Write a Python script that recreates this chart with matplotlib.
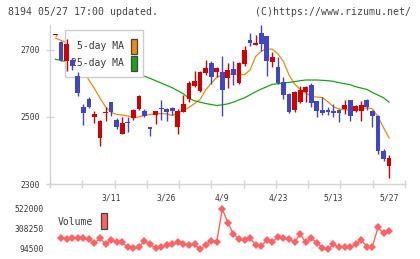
import numpy as np
import matplotlib
matplotlib.use("Agg")
import matplotlib.pyplot as plt
from matplotlib.patches import Rectangle

# candle data (index 0 = oldest shown day)
opens = [2743, 2723, 2666, 2671, 2623, 2531, 2552, 2499, 2436, 2511,
         2543, 2492, 2449, 2484, 2496, 2524, 2519, 2471, 2506, 2526,
         2524, 2527, 2469, 2516, 2554, 2593, 2578, 2631, 2660, 2635,
         2635, 2615, 2643, 2600, 2658, 2728, 2713, 2751, 2740, 2663,
         2650, 2605, 2567, 2522, 2544, 2575, 2596, 2546, 2521, 2521,
         2518, 2521, 2524, 2551, 2519, 2517, 2549, 2519, 2504, 2399, 2355]
highs = [2744, 2726, 2731, 2676, 2633, 2539, 2559, 2519, 2491, 2531,
         2545, 2497, 2499, 2499, 2524, 2564, 2524, 2471, 2519, 2549,
         2526, 2529, 2524, 2564, 2608, 2638, 2638, 2670, 2668, 2648,
         2683, 2660, 2668, 2663, 2710, 2751, 2743, 2773, 2740, 2693,
         2678, 2618, 2570, 2576, 2593, 2593, 2600, 2546, 2559, 2529,
         2539, 2524, 2551, 2551, 2537, 2546, 2554, 2521, 2506, 2404, 2385]
lows = [2742, 2666, 2636, 2640, 2561, 2477, 2527, 2481, 2414, 2487,
        2504, 2464, 2449, 2454, 2491, 2521, 2499, 2444, 2479, 2492,
        2488, 2506, 2449, 2514, 2544, 2588, 2575, 2626, 2598, 2620,
        2504, 2585, 2596, 2598, 2653, 2710, 2713, 2696, 2623, 2650,
        2598, 2552, 2511, 2514, 2541, 2544, 2529, 2499, 2507, 2507,
        2499, 2484, 2509, 2489, 2514, 2489, 2521, 2471, 2390, 2370, 2317]
closes = [2743, 2671, 2718, 2651, 2570, 2511, 2529, 2509, 2487, 2515,
          2514, 2471, 2482, 2481, 2521, 2561, 2504, 2463, 2517, 2523,
          2514, 2517, 2519, 2539, 2600, 2608, 2633, 2645, 2620, 2645,
          2581, 2640, 2626, 2660, 2698, 2720, 2720, 2716, 2666, 2680,
          2602, 2564, 2514, 2575, 2579, 2588, 2541, 2517, 2513, 2514,
          2512, 2511, 2537, 2502, 2534, 2537, 2531, 2504, 2397, 2375, 2378]

ma5 = [2735, 2728, 2722, 2700, 2670, 2640, 2610, 2585, 2556, 2530,
       2514, 2507, 2506, 2503, 2497, 2500, 2505, 2507, 2509, 2510,
       2509, 2504, 2512, 2519, 2528, 2540, 2552, 2580, 2600, 2618,
       2625, 2627, 2628, 2627, 2626, 2640, 2680, 2696, 2703, 2702,
       2688, 2665, 2625, 2598, 2582, 2572, 2561, 2559, 2558, 2545,
       2530, 2524, 2521, 2521, 2521, 2524, 2527, 2524, 2501, 2468, 2437]
ma25 = [2672, 2668, 2665, 2662, 2658, 2655, 2651, 2648, 2645, 2641,
        2638, 2635, 2632, 2629, 2626, 2624, 2621, 2615, 2608, 2601,
        2594, 2587, 2578, 2569, 2555, 2548, 2544, 2540, 2537, 2534,
        2536, 2539, 2544, 2551, 2557, 2566, 2575, 2583, 2590, 2597,
        2599, 2601, 2603, 2605, 2608, 2610, 2610, 2610, 2609, 2608,
        2606, 2602, 2599, 2596, 2590, 2586, 2582, 2573, 2565, 2557, 2544]

# volume from day 1 onward
volume = [215600, 201400, 208500, 208500, 208500, 197800, 155000, 208500, 144400, 190700,
          165750, 165750, 112300, 101600, 112300, 180000, 144400, 101600, 119400, 137250,
          144400, 165750, 144400, 137250, 144400, 91000, 137250, 183600, 172900, 522000,
          375900, 254800, 201400, 190700, 208500, 137250, 126600, 190700, 172900, 219200,
          208500, 201400, 165750, 254800, 165750, 208500, 162200, 108750, 94500, 144400,
          112300, 119400, 112300, 144400, 190700, 119400, 119400, 326100, 262000, 286900]

date_idx = [10, 20, 30, 40, 50, 60]
date_labels = ["3/11", "3/26", "4/9", "4/23", "5/13", "5/27"]
price_ticks = [2300, 2500, 2700]
vol_ticks = [94500, 308250, 522000]

RED = "#d40000"
BLUE = "#4046c4"
ORANGE = "#f28a0c"
GREEN = "#16a616"
VOLC = "#ff6262"
AXC = "#d4d4d4"
TXT = "#3a3a3a"
MONO = "DejaVu Sans Mono"

W, H = 420, 259
fig = plt.figure(figsize=(W / 100, H / 100), dpi=100)

def fx(px):
    return px / W

def fy(py):
    return 1 - py / H

ax = fig.add_axes([fx(50), fy(184), 355 / W, 159 / H])
axv = fig.add_axes([fx(50), fy(253), 355 / W, 48 / H])

x = np.arange(len(opens))
o = np.array(opens)
c = np.array(closes)
up = c >= o
cols = np.where(up, RED, BLUE)
bottom = np.minimum(o, c)
height = np.maximum(np.abs(c - o), 3)

ax.plot(x, ma5, color=ORANGE, lw=0.9, zorder=2)
ax.plot(x, ma25, color=GREEN, lw=0.9, zorder=2)
ax.vlines(x, lows, highs, colors=cols, lw=1, zorder=4)
ax.bar(x, height, bottom=bottom, width=0.85, color=cols, zorder=4)

xmin, xmax = -0.99, 62.86
ax.set_xlim(xmin, xmax)
ax.set_ylim(2300, 2774)
for s in ["top", "right"]:
    ax.spines[s].set_visible(False)
for s in ["left", "bottom"]:
    ax.spines[s].set_color(AXC)
    ax.spines[s].set_linewidth(1)

ax.set_yticks(price_ticks)
ax.set_yticklabels([str(t) for t in price_ticks])
ax.tick_params(axis="y", direction="inout", length=6, width=1, color=AXC,
               labelsize=5.8, labelcolor=TXT, pad=4)
ax.set_xticks(np.linspace(xmin, xmax, 12))
ax.set_xticklabels([])
ax.tick_params(axis="x", which="major", direction="inout", length=6, width=1, color=AXC)
ax.set_xticks(date_idx, minor=True)
ax.set_xticklabels(date_labels, minor=True)
ax.tick_params(axis="x", which="minor", length=0, pad=6.5, labelsize=5.8, labelcolor=TXT)
for lab in ax.get_xticklabels(minor=True) + ax.get_yticklabels():
    lab.set_family(MONO)

# MA legend box (sits under the candles, over the MA lines)
def ax_pt(px, py):
    return ((px - 50) / 355, (184 - py) / 159)

bx0, by0 = ax_pt(65, 77)
bx1, by1 = ax_pt(143, 30)
ax.add_patch(Rectangle((bx0, by0), bx1 - bx0, by1 - by0, transform=ax.transAxes,
                       facecolor="white", edgecolor="#cccccc", lw=1, zorder=3))
for name, col, py in [("5-day MA", ORANGE, 46), ("25-day MA", GREEN, 63)]:
    tx, ty = ax_pt(124, py)
    ax.text(tx, ty, name, transform=ax.transAxes, ha="right", va="center",
            fontsize=7, family=MONO, color=TXT, zorder=3)
    rx, ry = ax_pt(131, py + 7.5)
    ax.add_patch(Rectangle((rx, ry), 6 / 355, 15 / 159, transform=ax.transAxes,
                           facecolor=col, edgecolor="#444444", lw=0.9, zorder=3))

# volume panel
axv.plot(np.arange(1, len(volume) + 1), volume, color=VOLC, lw=1,
         marker="D", markersize=3.6, markeredgewidth=0)
axv.set_xlim(xmin, xmax)
axv.set_ylim(51750, 564750)
for s in axv.spines.values():
    s.set_visible(False)
axv.set_xticks([])
axv.set_yticks(vol_ticks)
axv.set_yticklabels([str(t) for t in vol_ticks])
axv.tick_params(axis="y", length=0, labelsize=5.8, labelcolor=TXT, pad=4.5)
for lab in axv.get_yticklabels():
    lab.set_family(MONO)

fig.text(fx(58), fy(222), "Volume", ha="left", va="center", fontsize=7,
         family=MONO, color=TXT)
fig.add_artist(Rectangle((fx(101), fy(229)), 6 / W, 16 / H, transform=fig.transFigure,
                         facecolor=VOLC, edgecolor="#444444", lw=0.9))

fig.text(fx(8), fy(12), "8194 05/27 17:00 updated.", ha="left", va="center",
         fontsize=7.1, family=MONO, color="#444444")
fig.text(fx(411), fy(12), "(C)https://www.rizumu.net/", ha="right", va="center",
         fontsize=7.1, family=MONO, color="#444444")

fig.savefig("out.png", dpi=100)
